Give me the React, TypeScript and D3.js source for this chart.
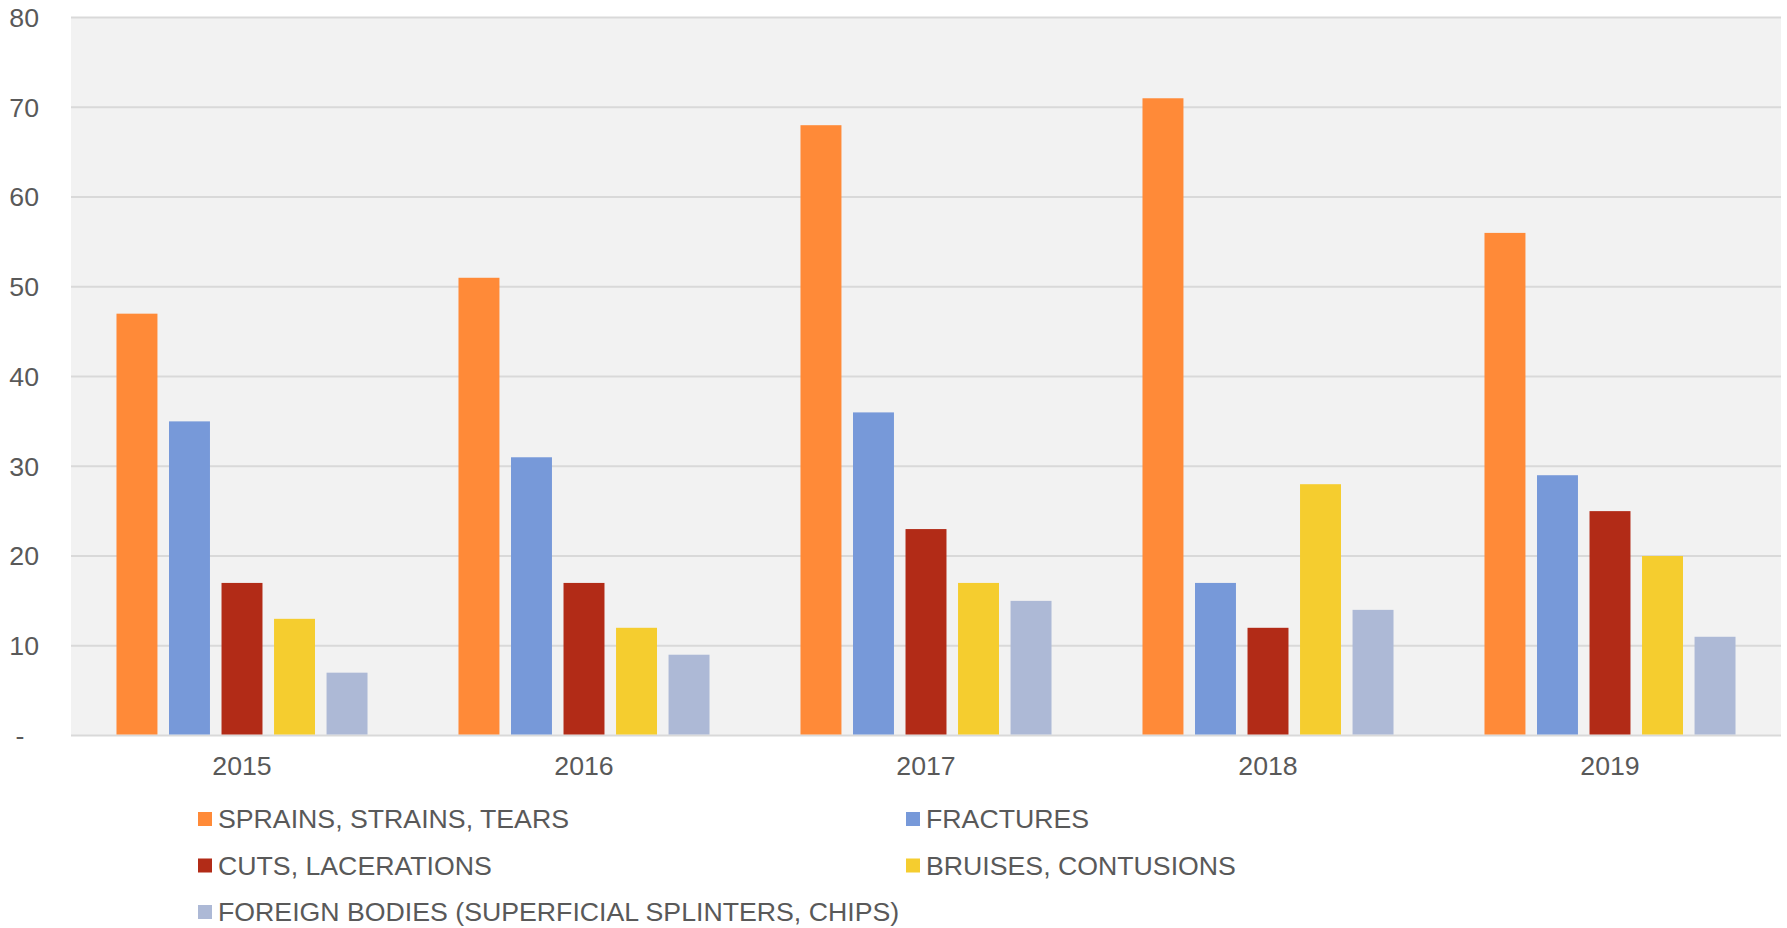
import React from 'react';
import * as d3 from 'd3';

// Injury counts per year
const years = ['2015', '2016', '2017', '2018', '2019'];
const seriesNames = [
  'SPRAINS, STRAINS, TEARS',
  'FRACTURES',
  'CUTS, LACERATIONS',
  'BRUISES, CONTUSIONS',
  'FOREIGN BODIES (SUPERFICIAL SPLINTERS, CHIPS)',
];
const sprains = [47, 51, 68, 71, 56];
const fractures = [35, 31, 36, 17, 29];
const cuts = [17, 17, 23, 12, 25];
const bruises = [13, 12, 17, 28, 20];
const foreign = [7, 9, 15, 14, 11];
const yTicks = [0, 10, 20, 30, 40, 50, 60, 70, 80];

const seriesValues = [sprains, fractures, cuts, bruises, foreign];
const colors = ['#FF8A38', '#7799D9', '#B22B17', '#F5CD2F', '#ADB9D6'];

const W = 1787;
const H = 928;
const plot = { left: 71, right: 1781, top: 17.5, bottom: 735.5 };
const textColor = '#595959';
const font = 'Arial, "Liberation Sans", sans-serif';
const fs = 26.7;

export default function App() {
  const x0 = d3.scaleBand<string>()
    .domain(years)
    .range([plot.left, plot.right])
    .paddingInner(0)
    .paddingOuter(0);

  const band = x0.bandwidth();
  // five bars ~41px wide on a 52.5px step inside a 342px group
  const x1 = d3.scaleBand<number>()
    .domain(d3.range(seriesNames.length))
    .range([band * 0.133, band * 0.867])
    .paddingInner(0.22)
    .paddingOuter(0);

  const y = d3.scaleLinear().domain([0, 80]).range([plot.bottom, plot.top]);

  const legendCols = [198, 906];
  const legendRows = [819, 865.5, 912];

  return (
    <div style={{ position: 'absolute', left: 0, top: 0 }}>
      <svg width={W} height={H} style={{ display: 'block', background: '#fff' }}>
        <rect
          x={plot.left}
          y={plot.top}
          width={plot.right - plot.left}
          height={plot.bottom - plot.top}
          fill="#F2F2F2"
        />
        {yTicks.map((t) => (
          <g key={t}>
            <line
              x1={plot.left}
              x2={plot.right}
              y1={y(t)}
              y2={y(t)}
              stroke="#D9D9D9"
              strokeWidth={2}
            />
            <text
              x={t === 0 ? 20 : 39}
              y={y(t)}
              dy="0.35em"
              textAnchor={t === 0 ? 'middle' : 'end'}
              fontFamily={font}
              fontSize={fs}
              fill={textColor}
            >
              {t === 0 ? '-' : t}
            </text>
          </g>
        ))}
        {years.map((yr, i) => (
          <g key={yr} transform={`translate(${x0(yr)},0)`}>
            {seriesValues.map((vals, s) => (
              <rect
                key={s}
                x={x1(s)}
                y={y(vals[i])}
                width={x1.bandwidth()}
                height={y(0) - y(vals[i]) - 1}
                fill={colors[s]}
              />
            ))}
            <text
              x={band / 2}
              y={765.5}
              dy="0.35em"
              textAnchor="middle"
              fontFamily={font}
              fontSize={fs}
              fill={textColor}
            >
              {yr}
            </text>
          </g>
        ))}
        {seriesNames.map((name, s) => {
          const cx = legendCols[s % 2];
          const cy = legendRows[Math.floor(s / 2)];
          return (
            <g key={name}>
              <rect x={cx} y={cy - 7} width={14} height={14} fill={colors[s]} />
              <text
                x={cx + 20}
                y={cy}
                dy="0.35em"
                fontFamily={font}
                fontSize={fs}
                fill={textColor}
              >
                {name}
              </text>
            </g>
          );
        })}
      </svg>
    </div>
  );
}
